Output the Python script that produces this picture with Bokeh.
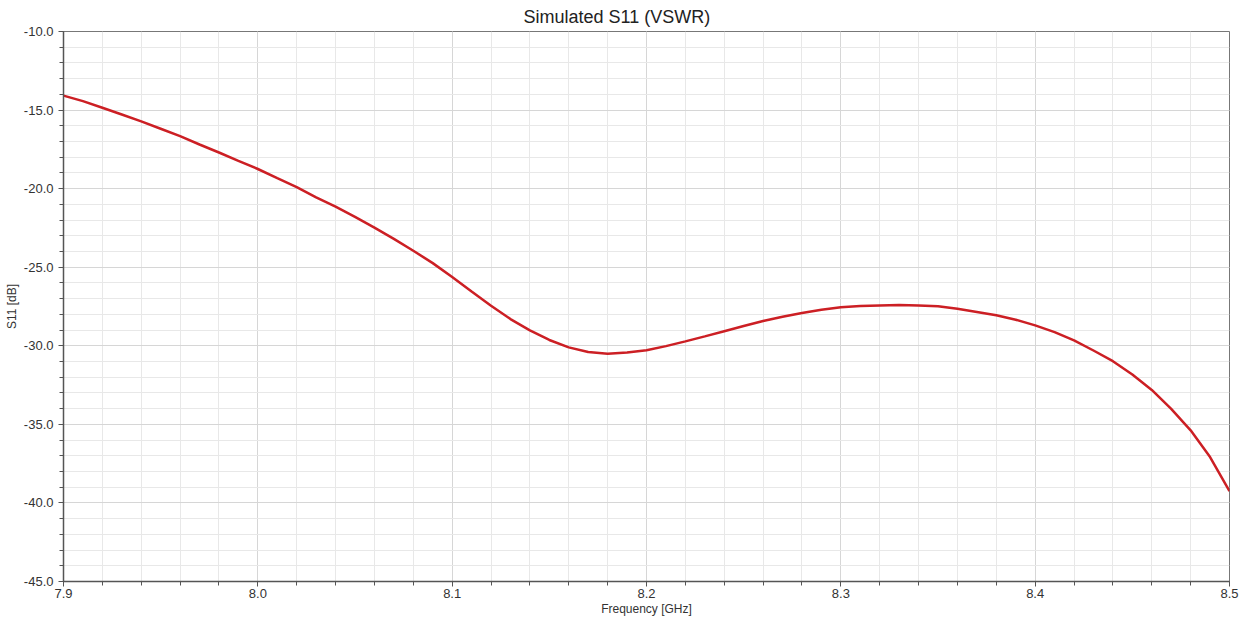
from bokeh.plotting import figure
from bokeh.models import SingleIntervalTicker, NumeralTickFormatter, Range1d
from bokeh.embed import file_html
from bokeh.resources import INLINE

freq_ghz = [7.90, 7.91, 7.92, 7.93, 7.94, 7.95, 7.96, 7.97, 7.98, 7.99,
            8.00, 8.01, 8.02, 8.03, 8.04, 8.05, 8.06, 8.07, 8.08, 8.09,
            8.10, 8.11, 8.12, 8.13, 8.14, 8.15, 8.16, 8.17, 8.18, 8.19,
            8.20, 8.21, 8.22, 8.23, 8.24, 8.25, 8.26, 8.27, 8.28, 8.29,
            8.30, 8.31, 8.32, 8.33, 8.34, 8.35, 8.36, 8.37, 8.38, 8.39,
            8.40, 8.41, 8.42, 8.43, 8.44, 8.45, 8.46, 8.47, 8.48, 8.49,
            8.50]
s11_db = [-14.08, -14.43, -14.85, -15.28, -15.72, -16.19, -16.66, -17.19, -17.70, -18.23,
          -18.75, -19.33, -19.90, -20.55, -21.15, -21.80, -22.48, -23.20, -23.95, -24.74,
          -25.62, -26.55, -27.45, -28.30, -29.02, -29.63, -30.10, -30.40, -30.50, -30.43,
          -30.28, -30.02, -29.72, -29.40, -29.07, -28.74, -28.42, -28.15, -27.91, -27.70,
          -27.55, -27.47, -27.43, -27.40, -27.43, -27.49, -27.64, -27.85, -28.06, -28.34,
          -28.70, -29.13, -29.66, -30.30, -30.98, -31.83, -32.81, -34.02, -35.38, -37.08,
          -39.25]

FONT = "Liberation Sans"

p = figure(width=1248, height=618, output_backend="svg", toolbar_location=None,
           x_range=Range1d(7.9, 8.5), y_range=Range1d(-45, -10),
           title="Simulated S11 (VSWR)",
           x_axis_label="Frequency [GHz]", y_axis_label="S11 [dB]",
           min_border_left=63, min_border_right=19, min_border_top=30, min_border_bottom=30)

p.title.align = "left"
p.title.offset = 460
p.title.text_font = FONT
p.title.text_font_size = "18px"
p.title.text_font_style = "normal"
p.title.text_color = "#222222"
p.title.standoff = 9

p.line(freq_ghz, s11_db, line_color="#cc1f24", line_width=2.5)

p.xaxis.ticker = SingleIntervalTicker(interval=0.1, num_minor_ticks=5)
p.yaxis.ticker = SingleIntervalTicker(interval=5, num_minor_ticks=5)
p.xaxis.formatter = NumeralTickFormatter(format="0.0")
p.yaxis.formatter = NumeralTickFormatter(format="0.0")

for ax in (p.xaxis[0], p.yaxis[0]):
    ax.axis_line_color = "#555555"
    ax.axis_line_width = 1.5
    ax.major_tick_line_color = "#555555"
    ax.minor_tick_line_color = "#555555"
    ax.major_tick_out = 5
    ax.major_tick_in = 0
    ax.minor_tick_out = 4
    ax.minor_tick_in = 0
    ax.major_label_text_font = FONT
    ax.major_label_text_font_size = "13px"
    ax.major_label_text_color = "#333333"
    ax.axis_label_text_font = FONT
    ax.axis_label_text_font_size = "12px"
    ax.axis_label_text_font_style = "normal"
    ax.axis_label_text_color = "#333333"

p.xaxis.major_label_standoff = 2
p.xaxis.axis_label_standoff = 1
p.yaxis.major_label_standoff = 5
p.yaxis.axis_label_standoff = 2

p.xgrid.grid_line_color = "#d6d6d6"
p.ygrid.grid_line_color = "#d6d6d6"
p.xgrid.minor_grid_line_color = "#e8e8e8"
p.ygrid.minor_grid_line_color = "#e8e8e8"

p.outline_line_color = "#777777"
p.outline_line_width = 1
p.background_fill_color = "white"
p.border_fill_color = "white"

open("out.html", "w").write(file_html(p, INLINE))
